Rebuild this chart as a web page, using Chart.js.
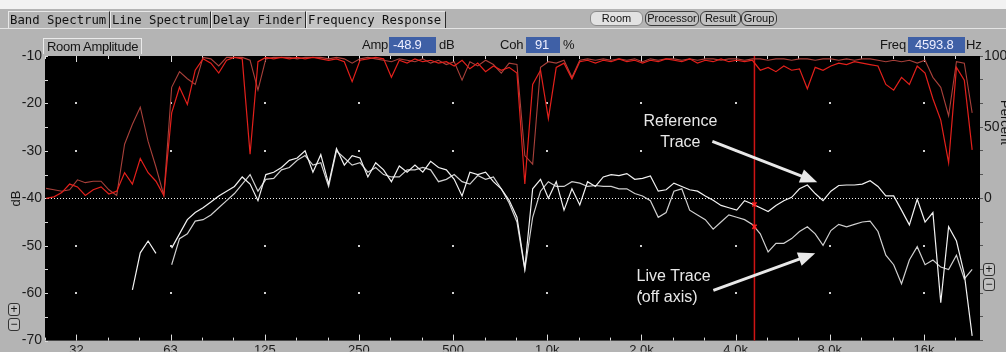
<!DOCTYPE html>
<html>
<head>
<meta charset="utf-8">
<script src="https://cdn.jsdelivr.net/npm/chart.js@4.4.1/dist/chart.umd.min.js"></script>
<style>
html, body { margin: 0; padding: 0; }
body { width: 1006px; height: 352px; overflow: hidden; background: #b4b4b4; position: relative; font-family: "Liberation Sans", Arial, sans-serif; }
#myChart { position: absolute; left: 0; top: 0; }
#strip { position: absolute; left: 0; top: 0; width: 1006px; height: 9px; background: #f2f2f2; }
#tabline { position: absolute; left: 0; top: 28px; width: 1006px; height: 1px; background: #e4e4e4; }
.tab { position: absolute; top: 11px; height: 17px; line-height: 16px; font-family: "DejaVu Sans Mono", monospace; font-size: 12.3px; color: #111; border-left: 1px solid #e8e8e8; border-top: 1px solid #e8e8e8; border-right: 1px solid #2a2a2a; padding-left: 1px; box-sizing: border-box; }
.tab.on { background: #c4c4c4; }
.btn { position: absolute; top: 11px; height: 15px; line-height: 13px; font-size: 11px; text-align: center; border: 1px solid #3a3a3a; border-radius: 6px; box-sizing: border-box; background: #c2c2c2; color: #111; }
.btn.on { background: #e2e2e2; border-color: #8a8a8a; }
.lbl { position: absolute; top: 37px; font-size: 13px; line-height: 16px; color: #151515; letter-spacing: -0.2px; }
.val { position: absolute; top: 37px; height: 16px; line-height: 16px; font-size: 13px; background: #3f60a6; color: #eef; letter-spacing: -0.2px; box-sizing: border-box; }
#roomAmp { position: absolute; left: 43px; top: 38px; width: 99px; height: 16px; line-height: 15px; font-size: 13px; letter-spacing: -0.3px; color: #151515; border-top: 1px solid #eaeaea; border-left: 1px solid #eaeaea; border-right: 1px solid #eaeaea; padding-left: 3px; box-sizing: border-box; }
.rot { position: absolute; font-size: 13px; color: #151515; white-space: nowrap; }
.pm { position: absolute; width: 12px; height: 13px; line-height: 11px; font-size: 12px; text-align: center; border: 1px solid #333; border-radius: 3px; box-sizing: border-box; color: #111; background: #c0c0c0; }
</style>
</head>
<body>
<canvas id="myChart" width="1006" height="352"></canvas>
<div id="strip"></div>
<div id="tabline"></div>
<div class="tab" style="left:8px;width:102px;">Band Spectrum</div>
<div class="tab" style="left:110px;width:101px;">Line Spectrum</div>
<div class="tab" style="left:211px;width:95px;">Delay Finder</div>
<div class="tab on" style="left:306px;width:140px;">Frequency Response</div>
<div class="btn on" style="left:590px;width:53px;">Room</div>
<div class="btn" style="left:645px;width:54px;">Processor</div>
<div class="btn" style="left:700px;width:41px;">Result</div>
<div class="btn" style="left:741px;width:36px;">Group</div>
<div id="roomAmp">Room Amplitude</div>
<div class="lbl" style="left:362px;">Amp</div>
<div class="val" style="left:389px;width:47px;padding-left:4px;">-48.9</div>
<div class="lbl" style="left:439px;">dB</div>
<div class="lbl" style="left:500px;">Coh</div>
<div class="val" style="left:526px;width:34px;padding-left:9px;">91</div>
<div class="lbl" style="left:563px;">%</div>
<div class="lbl" style="left:880px;">Freq</div>
<div class="val" style="left:908px;width:57px;padding-left:7px;">4593.8</div>
<div class="lbl" style="left:966px;">Hz</div>
<div class="rot" style="left:8px;top:191px;transform:rotate(-90deg);">dB</div>
<div class="rot" style="left:983px;top:115px;transform:rotate(90deg);">Percent</div>
<div class="pm" style="left:8px;top:303px;">+</div>
<div class="pm" style="left:8px;top:318px;">&minus;</div>
<div class="pm" style="left:983px;top:263px;">+</div>
<div class="pm" style="left:983px;top:278px;">&minus;</div>

<script>
// frequency grid, 1/12 octave from 25 Hz
var freqs = [
    25, 26.49, 28.06, 29.73, 31.5, 33.37, 35.36, 37.46, 39.69, 42.04,
    44.55, 47.19, 50, 52.97, 56.12, 59.46, 63, 66.74, 70.71, 74.92,
    79.37, 84.09, 89.09, 94.39, 100, 105.9, 112.2, 118.9, 126, 133.5,
    141.4, 149.8, 158.7, 168.2, 178.2, 188.8, 200, 211.9, 224.5, 237.8,
    252, 267, 282.8, 299.7, 317.5, 336.4, 356.4, 377.6, 400, 423.8,
    449, 475.7, 504, 534, 565.7, 599.3, 635, 672.7, 712.7, 755.1,
    800, 847.6, 898, 951.4, 1008, 1068, 1131, 1199, 1270, 1345,
    1425, 1510, 1600, 1695, 1796, 1903, 2016, 2136, 2263, 2398,
    2540, 2691, 2851, 3021, 3200, 3390, 3592, 3806, 4032, 4272,
    4525, 4795, 5080, 5382, 5702, 6041, 6400, 6781, 7184, 7611,
    8063, 8543, 9051, 9589, 10159, 10763, 11404, 12082, 12800, 13561,
    14368, 15222, 16127, 17086, 18102, 19179, 20319, 21527, 22807, 24163
];

// amplitude, dB
var refTrace = [
    null, null, null, null, null, null, null, null, null, null,
    null, -59.3, -51.5, -49, -51.6, null, -50.5, -47.5, -44.5, -43,
    -42, -40.8, -39.5, -38.5, -37.5, -35.5, -37, -40.5, -35, -34.5,
    -33.5, -32, -31.5, -30, -34.5, -30.8, -37, -29.5, -33, -31,
    -31.5, -35.5, -32.5, -34, -36.5, -33.2, -34.5, -33, -34.5, -32.2,
    -33.5, -34, -36, -39.5, -34.5, -35, -34.5, -36.5, -38, -40.4,
    -44, -54.8, -38, -36, -40, -36.5, -42.5, -38, -41.4, -36.5,
    -37.5, -35.5, -35, -35.2, -34.8, -36, -35.8, -35.3, -38.5, -38.2,
    -36.8, -37.5, -38.2, -38.5, -39.5, -40.4, -41.5, -42, -42.5, -40.5,
    -41.2, -42, -42.8, -41.5, -40.5, -39.8, -38, -37.2, -39, -40.5,
    -38.5, -37.3, -37.2, -37.2, -37, -36.3, -37.5, -39.5, -39.5, -42.5,
    -45.6, -40.2, -45, -43, -62, -46, -49, -56, -69, null
];
var liveTrace = [
    null, null, null, null, null, null, null, null, null, null,
    null, null, null, null, null, null, -54, -48.5, -47.5, -44.8,
    -44.5, -43.5, -42, -40.5, -39, -37, -35, -38.5, -36, -35.8,
    -34, -33.5, -32, -31, -33, -32.5, -37.5, -30, -31.5, -33,
    -32.5, -34.5, -33.5, -35, -35.5, -35.5, -34, -34, -33.5, -34,
    -36.5, -36, -35, -36.5, -37, -35.2, -36, -35.5, -38, -41,
    -45, -55.1, -44, -38.5, -36.5, -37.5, -37.5, -36.5, -36.8, -37.5,
    -37.3, -37.5, -37.5, -38, -38, -39, -39.5, -40.5, -44, -43,
    -38.5, -38, -42.5, -43.5, -44.5, -46.5, -45, -43.5, -44, -44.5,
    -45.5, -47.5, -51.3, -49.5, -49.5, -48.5, -47, -46, -47.5, -49.9,
    -46.8, -45.5, -46, -45.5, -45, -44.8, -47, -52, -54, -58,
    -53, -50.2, -54, -53, -54.5, -55, -52, -57, -55, null
];

// coherence, percent
var cohLive = [
    0, 1, 4, 10, 8, 2, 6, 8, 3, 5,
    18, 10, 28, 18, 12, 2, 60, 78, 66, 90,
    98, 95, 88, 97, 99, 98, 31, 96, 99, 98,
    99, 98, 99, 98, 99, 98, 97, 98, 96, 82,
    97, 98, 99, 98, 85, 97, 95, 98, 96, 97,
    95, 96, 93, 97, 91, 95, 89, 93, 90, 92,
    88, 10, 80, 90, 56, 92, 95, 84, 96, 97,
    95, 97, 96, 98, 96, 97, 95, 97, 96, 98,
    97, 96, 98, 95, 97, 96, 98, 96, 97, 96,
    97, 90, 92, 89, 93, 90, 91, 77, 92, 90,
    93, 95, 94, 96, 95, 94, 93, 80, 76, 85,
    80, 93, 88, 70, 55, 25, 92, 83, 34, null
];
var cohRef = [
    7, 6, 5, 6, 13, 11, 12, 12, 6, 2,
    38, 52, 64, 40, 22, 2, 78, 89, 84, 80,
    99, 98, 93, 99, 99, 99, 97, 76, 98, 99,
    99, 99, 98, 99, 99, 99, 98, 99, 98, 95,
    98, 99, 98, 97, 96, 98, 97, 96, 98, 95,
    97, 94, 96, 83, 96, 93, 97, 94, 88, 95,
    94, 30, 24, 92, 96, 95, 97, 85, 97, 98,
    97, 98, 97, 98, 97, 98, 96, 98, 97, 98,
    98, 97, 98, 97, 98, 98, 97, 98, 98, 97,
    98, 98, 97, 98, 98, 97, 98, 98, 97, 98,
    98, 97, 98, 97, 98, 98, 97, 96, 97, 96,
    97, 95, 97, 85, 78, 58, 96, 95, 60, null
];

var majorTicks = [31.25, 62.5, 125, 250, 500, 1000, 2000, 4000, 8000, 16000];
var majorLabels = ["32", "63", "125", "250", "500", "1.0k", "2.0k", "4.0k", "8.0k", "16k"];
var dbTicks = [-10, -20, -30, -40, -50, -60, -70];
var cursorFreq = 4593.8;
var cursorLevels = [-41.3, -46];

// third octave tick marks around each labelled octave
var thirdTicks = [24.8];
majorTicks.forEach(function(m) {
    [m * Math.pow(2, -1 / 3), m, m * Math.pow(2, 1 / 3)].forEach(function(v) {
        if (v >= 25 && v <= 24163) thirdTicks.push(v);
    });
});
thirdTicks.sort(function(a, b) { return a - b; });

function pts(arr) {
    return freqs.map(function(f, i) { return { x: f, y: arr[i] }; });
}

function arrow(ctx, x1, y1, x2, y2) {
    var a = Math.atan2(y2 - y1, x2 - x1), L = 17, W = 7;
    ctx.beginPath();
    ctx.moveTo(x1, y1);
    ctx.lineTo(x2 - 0.7 * L * Math.cos(a), y2 - 0.7 * L * Math.sin(a));
    ctx.stroke();
    ctx.beginPath();
    ctx.moveTo(x2, y2);
    ctx.lineTo(x2 - L * Math.cos(a) + W * Math.sin(a), y2 - L * Math.sin(a) - W * Math.cos(a));
    ctx.lineTo(x2 - L * Math.cos(a) - W * Math.sin(a), y2 - L * Math.sin(a) + W * Math.cos(a));
    ctx.closePath();
    ctx.fill();
}

var scope = {
    id: "scope",
    beforeDraw: function(chart) {
        var ctx = chart.ctx, a = chart.chartArea;
        ctx.save();
        ctx.fillStyle = "#000";
        ctx.fillRect(a.left, a.top, a.right - a.left, a.bottom - a.top);
        ctx.restore();
    },
    beforeDatasetsDraw: function(chart) {
        var ctx = chart.ctx, a = chart.chartArea, x = chart.scales.x, y = chart.scales.y;
        ctx.save();
        ctx.strokeStyle = "#dcdcdc";
        ctx.lineWidth = 1;
        x.ticks.forEach(function(t) {
            var px = Math.round(x.getPixelForValue(t.value)) + 0.5;
            var len = majorTicks.indexOf(t.value) >= 0 ? 6 : 3;
            ctx.beginPath();
            ctx.moveTo(px, a.top); ctx.lineTo(px, a.top + len);
            ctx.moveTo(px, a.bottom); ctx.lineTo(px, a.bottom - len);
            ctx.stroke();
        });
        dbTicks.forEach(function(v) {
            [v, v - 5].forEach(function(w) {
                if (w < -70) return;
                var py = Math.round(y.getPixelForValue(w)) + 0.5;
                ctx.beginPath();
                ctx.moveTo(a.left, py); ctx.lineTo(a.left + 3, py);
                ctx.stroke();
            });
        });
        ctx.fillStyle = "#d0d0d0";
        majorTicks.forEach(function(m) {
            dbTicks.forEach(function(v) {
                if (v === -10 || v === -40 || v === -70) return;
                ctx.fillRect(Math.round(x.getPixelForValue(m)) - 1, Math.round(y.getPixelForValue(v)) - 1, 2, 2);
            });
        });
        var y40 = Math.round(y.getPixelForValue(-40)) + 0.5;
        ctx.setLineDash([1, 2]);
        ctx.strokeStyle = "#f0f0f0";
        ctx.beginPath();
        ctx.moveTo(a.left, y40); ctx.lineTo(a.right, y40);
        ctx.stroke();
        ctx.setLineDash([]);
        var cx = x.getPixelForValue(cursorFreq);
        ctx.strokeStyle = "#d01414";
        ctx.lineWidth = 1.5;
        ctx.beginPath();
        ctx.moveTo(cx, a.top); ctx.lineTo(cx, a.bottom);
        ctx.stroke();
        ctx.restore();
    },
    afterDatasetsDraw: function(chart) {
        var ctx = chart.ctx, x = chart.scales.x, y = chart.scales.y;
        ctx.save();
        ctx.fillStyle = "#e8e8e8";
        ctx.strokeStyle = "#e8e8e8";
        ctx.font = "16px 'Liberation Sans', Arial, sans-serif";
        ctx.textBaseline = "middle";
        ctx.textAlign = "center";
        var rx = x.getPixelForValue(2663), ry = y.getPixelForValue(-23.9);
        ctx.fillText("Reference", rx, ry);
        ctx.fillText("Trace", rx, ry + 21);
        ctx.textAlign = "left";
        var lx = x.getPixelForValue(1928), ly = y.getPixelForValue(-56.5);
        ctx.fillText("Live Trace", lx, ly);
        ctx.fillText("(off axis)", lx, ly + 21);
        ctx.lineWidth = 3;
        arrow(ctx, x.getPixelForValue(3370), y.getPixelForValue(-28), x.getPixelForValue(7293), y.getPixelForValue(-36.6));
        arrow(ctx, x.getPixelForValue(3395), y.getPixelForValue(-59.4), x.getPixelForValue(7185), y.getPixelForValue(-51.6));
        ctx.restore();
    }
};

window.onload = function() {
    var ctx = document.getElementById("myChart").getContext("2d");
    var myChart = new Chart(ctx, {
        type: "line",
        data: {
            datasets: [
                {
                    label: "Cursor",
                    data: cursorLevels.map(function(v) { return { x: cursorFreq, y: v }; }),
                    showLine: false,
                    pointStyle: "crossRot",
                    pointRadius: 3,
                    borderColor: "#ff2020",
                    borderWidth: 1.5,
                    order: 0,
                },
                {
                    label: "Reference",
                    data: pts(refTrace),
                    borderColor: "#f2f2f2",
                    borderWidth: 1.2,
                    pointRadius: 0,
                    order: 1,
                },
                {
                    label: "Live",
                    data: pts(liveTrace),
                    borderColor: "#cfcfcf",
                    borderWidth: 1.2,
                    pointRadius: 0,
                    order: 2,
                },
                {
                    label: "Coherence live",
                    data: pts(cohLive),
                    yAxisID: "yR",
                    borderColor: "#e3201b",
                    borderWidth: 1.2,
                    pointRadius: 0,
                    order: 3,
                },
                {
                    label: "Coherence ref",
                    data: pts(cohRef),
                    yAxisID: "yR",
                    borderColor: "#a8403a",
                    borderWidth: 1.1,
                    pointRadius: 0,
                    order: 4,
                },
            ],
        },
        options: {
            responsive: false,
            animation: false,
            events: [],
            spanGaps: false,
            elements: { line: { tension: 0 } },
            layout: { padding: { top: 56, left: 0, right: 0, bottom: 0 } },
            plugins: { legend: { display: false }, tooltip: { enabled: false } },
            scales: {
                x: {
                    type: "logarithmic",
                    min: 24.8,
                    max: 24163,
                    afterFit: function(s) { s.height = 11; },
                    afterBuildTicks: function(s) { s.ticks = thirdTicks.map(function(v) { return { value: v }; }); },
                    grid: { drawOnChartArea: false, drawTicks: false },
                    border: { display: false },
                    ticks: {
                        autoSkip: false,
                        maxRotation: 0,
                        padding: 2,
                        color: "#1a1a1a",
                        font: { family: "'Liberation Sans', Arial, sans-serif", size: 13 },
                        callback: function(v) {
                            var k = majorTicks.indexOf(v);
                            return k >= 0 ? majorLabels[k] : "";
                        },
                    },
                },
                y: {
                    min: -70,
                    max: -10,
                    afterFit: function(s) { s.width = 45; },
                    afterBuildTicks: function(s) { s.ticks = dbTicks.map(function(v) { return { value: v }; }); },
                    grid: { drawOnChartArea: false, drawTicks: false },
                    border: { display: false },
                    ticks: {
                        padding: 3,
                        color: "#1a1a1a",
                        font: { family: "'Liberation Sans', Arial, sans-serif", size: 14 },
                    },
                },
                yR: {
                    position: "right",
                    min: -100,
                    max: 100,
                    afterFit: function(s) { s.width = 26; },
                    afterBuildTicks: function(s) {
                        var t = [];
                        for (var k = -6; k <= 6; k++) t.push({ value: k * 100 / 6 });
                        s.ticks = t;
                    },
                    grid: { drawOnChartArea: false, drawTicks: true, tickLength: 3, color: "#555" },
                    border: { display: false },
                    ticks: {
                        padding: 1,
                        color: "#1a1a1a",
                        font: { family: "'Liberation Sans', Arial, sans-serif", size: 14 },
                        callback: function(v) {
                            var r = Math.round(v);
                            return (r === 0 || r === 50 || r === 100) ? String(r) : "";
                        },
                    },
                },
            },
        },
        plugins: [scope],
    });
};
</script>
</body>
</html>
